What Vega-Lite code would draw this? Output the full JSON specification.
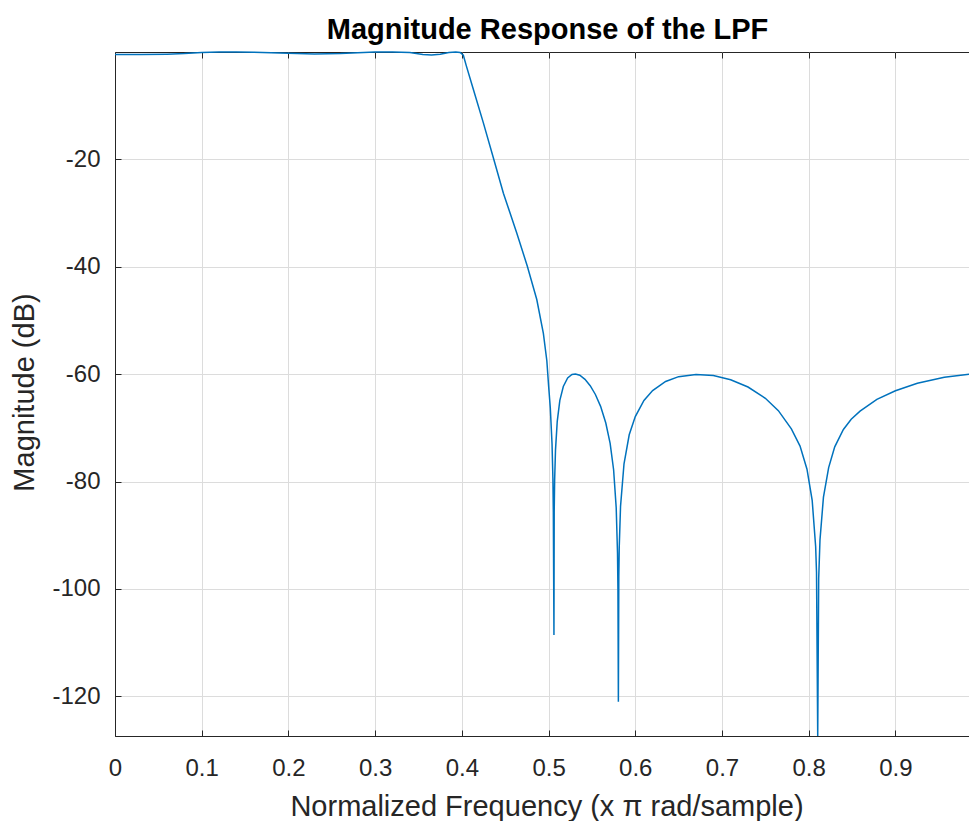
{
  "$schema": "https://vega.github.io/schema/vega-lite/v6.json",
  "autosize": {"type": "none"},
  "width": 855,
  "height": 684,
  "padding": {"left": 115, "top": 52, "right": 0, "bottom": 85},
  "background": "white",
  "title": {"text": "Magnitude Response of the LPF", "font": "Liberation Sans", "fontSize": 29, "fontWeight": "bold", "color": "#000000", "anchor": "middle", "baseline": "alphabetic", "offset": 14, "dx": 5, "dy": 33},
  "config": {
    "view": {"stroke": "#262626", "strokeWidth": 1},
    "axis": {"labelFont": "Liberation Sans", "titleFont": "Liberation Sans", "labelColor": "#262626", "titleColor": "#262626", "domainColor": "#262626", "tickColor": "#262626", "gridColor": "#dcdcdc", "gridWidth": 1, "labelFontSize": 24, "titleFontSize": 29, "titleFontWeight": "normal"}
  },
  "data": {"values": [
    {"f": 0, "m": -0.45}, {"f": 0.03, "m": -0.45}, {"f": 0.06, "m": -0.4}, {"f": 0.08, "m": -0.3},
    {"f": 0.1, "m": -0.1}, {"f": 0.12, "m": 0}, {"f": 0.14, "m": 0}, {"f": 0.16, "m": -0.05},
    {"f": 0.18, "m": -0.15}, {"f": 0.2, "m": -0.25}, {"f": 0.23, "m": -0.35}, {"f": 0.26, "m": -0.3},
    {"f": 0.28, "m": -0.15}, {"f": 0.3, "m": 0}, {"f": 0.32, "m": 0}, {"f": 0.34, "m": -0.1},
    {"f": 0.355, "m": -0.45}, {"f": 0.365, "m": -0.55}, {"f": 0.375, "m": -0.4}, {"f": 0.385, "m": -0.1},
    {"f": 0.393, "m": 0}, {"f": 0.398, "m": -0.1}, {"f": 0.4017, "m": -0.6}, {"f": 0.405, "m": -2.5},
    {"f": 0.4133, "m": -7.0}, {"f": 0.4248, "m": -13.2}, {"f": 0.4363, "m": -19.7}, {"f": 0.4479, "m": -26.3},
    {"f": 0.4633, "m": -33.7}, {"f": 0.4755, "m": -39.9}, {"f": 0.4864, "m": -46.1}, {"f": 0.494, "m": -52.4},
    {"f": 0.498, "m": -57.5}, {"f": 0.5, "m": -62.1}, {"f": 0.502, "m": -66.3}, {"f": 0.504, "m": -73.0},
    {"f": 0.505, "m": -79.4}, {"f": 0.5055, "m": -85.7}, {"f": 0.5062, "m": -108.6}, {"f": 0.5065, "m": -85.5},
    {"f": 0.507, "m": -79.75}, {"f": 0.508, "m": -74.1}, {"f": 0.51, "m": -68.8}, {"f": 0.513, "m": -64.9},
    {"f": 0.517, "m": -62.3}, {"f": 0.522, "m": -60.7}, {"f": 0.527, "m": -60.06}, {"f": 0.531, "m": -59.97},
    {"f": 0.536, "m": -60.21}, {"f": 0.542, "m": -60.96}, {"f": 0.548, "m": -62.15}, {"f": 0.554, "m": -63.79},
    {"f": 0.56, "m": -66.0}, {"f": 0.566, "m": -69.1}, {"f": 0.571, "m": -72.9}, {"f": 0.575, "m": -77.8},
    {"f": 0.578, "m": -84.9}, {"f": 0.5795, "m": -93.3}, {"f": 0.58, "m": -100.0}, {"f": 0.5805, "m": -121.0},
    {"f": 0.581, "m": -97.65}, {"f": 0.5815, "m": -92.2}, {"f": 0.583, "m": -84.6}, {"f": 0.587, "m": -76.7},
    {"f": 0.593, "m": -71.3}, {"f": 0.6, "m": -67.9}, {"f": 0.61, "m": -64.9}, {"f": 0.62, "m": -63.06},
    {"f": 0.635, "m": -61.37}, {"f": 0.65, "m": -60.47}, {"f": 0.67, "m": -60.05}, {"f": 0.69, "m": -60.27},
    {"f": 0.71, "m": -61.04}, {"f": 0.73, "m": -62.4}, {"f": 0.75, "m": -64.5}, {"f": 0.765, "m": -66.8},
    {"f": 0.78, "m": -70.2}, {"f": 0.79, "m": -73.4}, {"f": 0.798, "m": -77.7}, {"f": 0.804, "m": -83.5},
    {"f": 0.808, "m": -92.1}, {"f": 0.809, "m": -96.9}, {"f": 0.8104, "m": -127.4}, {"f": 0.8115, "m": -98.1},
    {"f": 0.813, "m": -90.9}, {"f": 0.817, "m": -82.9}, {"f": 0.823, "m": -77.4}, {"f": 0.83, "m": -73.55},
    {"f": 0.84, "m": -70.3}, {"f": 0.849, "m": -68.4}, {"f": 0.8592, "m": -66.9}, {"f": 0.8786, "m": -64.7}, {"f": 0.9, "m": -63.1},
    {"f": 0.9253, "m": -61.7}, {"f": 0.9564, "m": -60.6}, {"f": 0.985, "m": -60.0}
  ]},
  "layer": [
    {
      "mark": {"type": "line", "color": "#0072BD", "strokeWidth": 1.5, "clip": false},
      "encoding": {
        "x": {"field": "f", "type": "quantitative", "scale": {"domain": [0, 0.986], "nice": false, "zero": false},
          "axis": {"orient": "bottom", "values": [0, 0.1, 0.2, 0.3, 0.4, 0.5, 0.6, 0.7, 0.8, 0.9], "labelExpr": "toString(datum.value)", "grid": true, "tickSize": -6, "labelPadding": 26, "labelFlush": false,
            "title": "Normalized Frequency (x π rad/sample)", "titleX": 431.5, "titleY": 79, "titleBaseline": "alphabetic", "titleAlign": "center"}},
        "y": {"field": "m", "type": "quantitative", "scale": {"domain": [-127.4, 0], "nice": false, "zero": false},
          "axis": {"orient": "left", "values": [-120, -100, -80, -60, -40, -20], "labelExpr": "toString(datum.value)", "grid": true, "tickSize": -6, "labelPadding": 21, "labelFlush": false,
            "title": "Magnitude (dB)", "titleX": -82, "titleY": 340, "titleBaseline": "alphabetic", "titleAlign": "center", "titleAngle": 270}}
      }
    },
    {
      "mark": {"type": "line", "strokeOpacity": 0},
      "encoding": {
        "x": {"field": "f", "type": "quantitative", "scale": {"domain": [0, 0.986], "nice": false, "zero": false},
          "axis": {"orient": "top", "values": [0, 0.1, 0.2, 0.3, 0.4, 0.5, 0.6, 0.7, 0.8, 0.9], "labels": false, "title": null, "grid": false, "domain": false, "tickSize": -6}},
        "y": {"field": "m", "type": "quantitative", "axis": null}
      }
    }
  ],
  "resolve": {"axis": {"x": "independent", "y": "independent"}}
}
